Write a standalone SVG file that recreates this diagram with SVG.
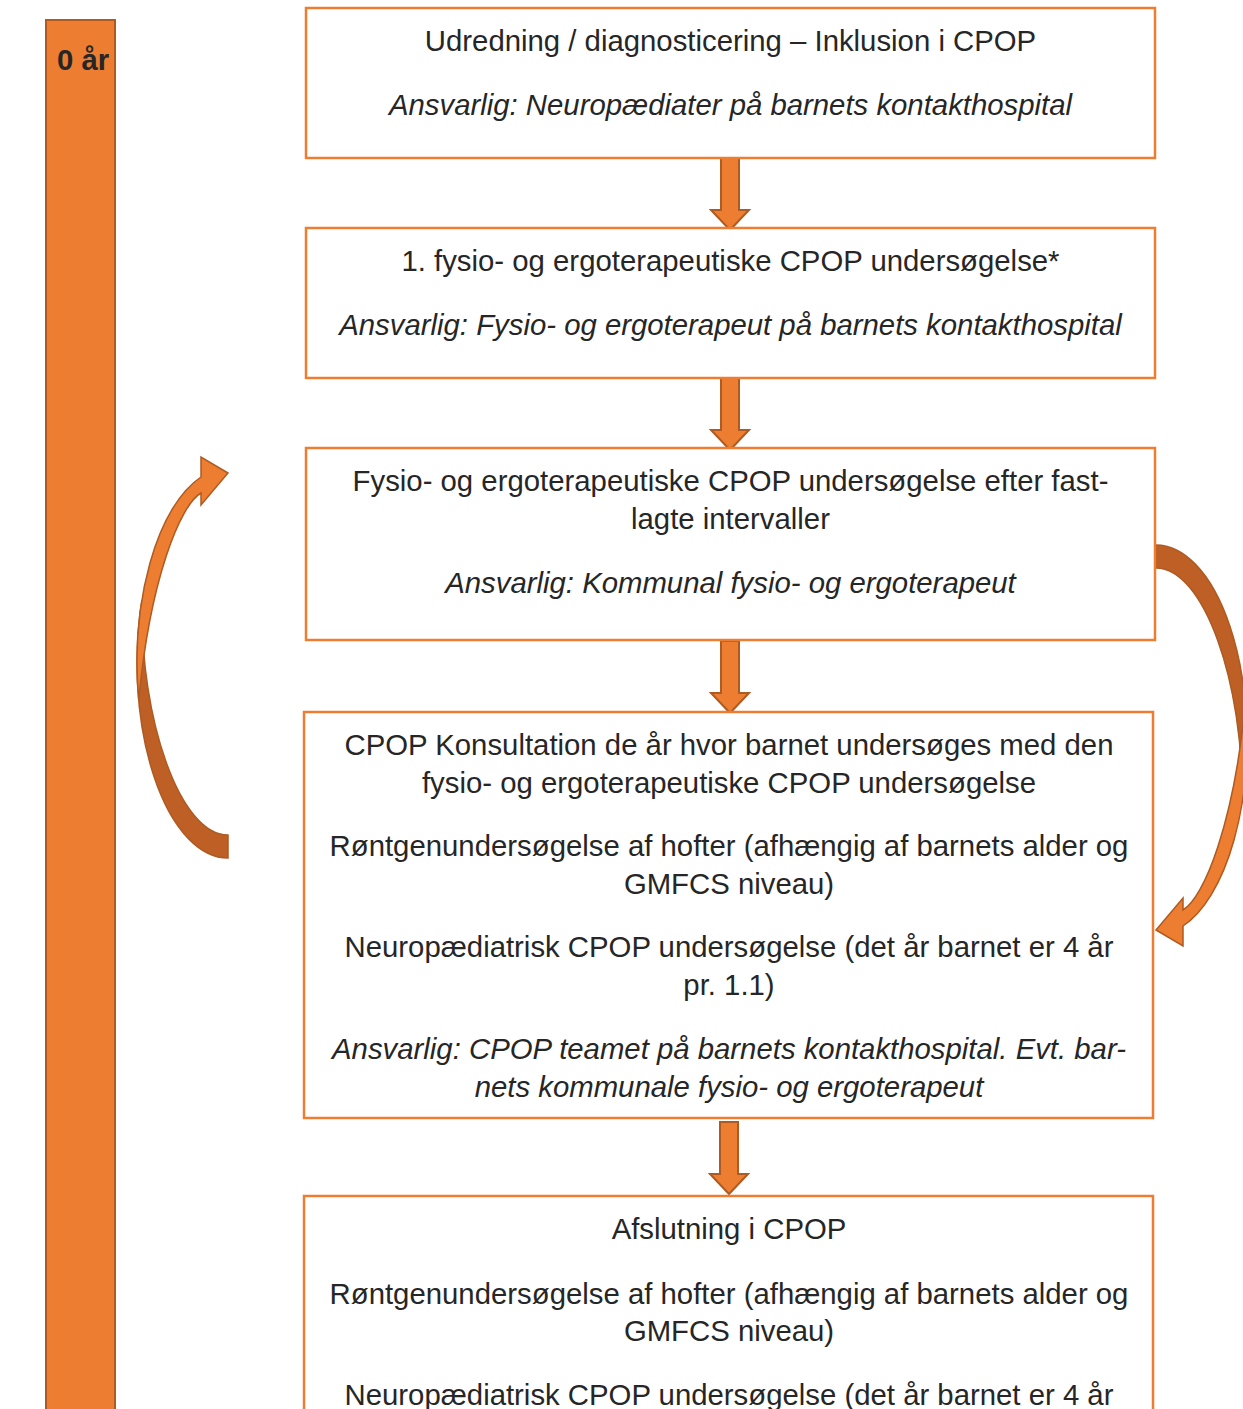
<svg xmlns="http://www.w3.org/2000/svg" width="1243" height="1409" viewBox="0 0 1243 1409">
<style>
.box{fill:#fff;stroke:#ED7D31;stroke-width:2.5}
.t{font-family:"Liberation Sans",Arial,sans-serif;font-size:29.33px;fill:#262626;text-anchor:middle}
.i{font-style:italic}
.arr{fill:#ED7D31;stroke:#AE5A21;stroke-width:2;stroke-linejoin:miter}
.lt{fill:#ED7D31;stroke:#AE5A21;stroke-width:1.5}
.dk{fill:#BE6026;stroke:#AE5A21;stroke-width:1.5}
</style>
<defs>
<path id="downArrow" d="M-9,0 L9,0 L9,52 L19,52 L0,72 L-19,52 L-9,52 Z"/>
<g id="curved">
<path class="dk" d="M228,858 A91,195 0 0 1 141.9,600 C140,720 180,835 228,835 Z"/>
<path class="lt" d="M138.7,700 A91,195 0 0 1 201,477 L201,457 L228,473 L201,505 L201,493 C180,505 150,580 138.7,700 Z"/>
</g>
</defs>

<g id="timeline">
<rect x="46" y="20" width="69" height="1420" fill="#ED7D31" stroke="#AE5A21" stroke-width="2"/>
<text x="57" y="70" font-family="'Liberation Sans',Arial,sans-serif" font-size="29.33" font-weight="bold" fill="#262626">0 år</text>
</g>

<g id="connectors">
<use href="#downArrow" class="arr" x="730" y="158"/>
<use href="#downArrow" class="arr" x="730" y="378"/>
<use href="#downArrow" class="arr" x="730" y="641"/>
<use href="#downArrow" class="arr" x="729" y="1122"/>
<use href="#curved" id="loopLeft"/>
<use href="#curved" id="loopRight" transform="translate(1384,1403) rotate(180)"/>
</g>

<g id="node1">
<rect class="box" x="306" y="8" width="849" height="150"/>
<text class="t" x="730.5" y="51">Udredning / diagnosticering – Inklusion i CPOP</text>
<text class="t i" x="730.5" y="115">Ansvarlig: Neuropædiater på barnets kontakthospital</text>
</g>

<g id="node2">
<rect class="box" x="306" y="228" width="849" height="150"/>
<text class="t" x="730.5" y="271">1. fysio- og ergoterapeutiske CPOP undersøgelse*</text>
<text class="t i" x="730.5" y="335">Ansvarlig: Fysio- og ergoterapeut på barnets kontakthospital</text>
</g>

<g id="node3">
<rect class="box" x="306" y="448" width="849" height="192"/>
<text class="t" x="730.5" y="491">Fysio- og ergoterapeutiske CPOP undersøgelse efter fast-</text>
<text class="t" x="730.5" y="529">lagte intervaller</text>
<text class="t i" x="730.5" y="593">Ansvarlig: Kommunal fysio- og ergoterapeut</text>
</g>

<g id="node4">
<rect class="box" x="304" y="712" width="849" height="406"/>
<text class="t" x="729" y="755">CPOP Konsultation de år hvor barnet undersøges med den</text>
<text class="t" x="729" y="793">fysio- og ergoterapeutiske CPOP undersøgelse</text>
<text class="t" x="729" y="856">Røntgenundersøgelse af hofter (afhængig af barnets alder og</text>
<text class="t" x="729" y="894">GMFCS niveau)</text>
<text class="t" x="729" y="957">Neuropædiatrisk CPOP undersøgelse (det år barnet er 4 år</text>
<text class="t" x="729" y="995">pr. 1.1)</text>
<text class="t i" x="729" y="1059">Ansvarlig: CPOP teamet på barnets kontakthospital. Evt. bar-</text>
<text class="t i" x="729" y="1097">nets kommunale fysio- og ergoterapeut</text>
</g>

<g id="node5">
<rect class="box" x="304" y="1196" width="849" height="260"/>
<text class="t" x="729" y="1239">Afslutning i CPOP</text>
<text class="t" x="729" y="1304">Røntgenundersøgelse af hofter (afhængig af barnets alder og</text>
<text class="t" x="729" y="1341">GMFCS niveau)</text>
<text class="t" x="729" y="1405">Neuropædiatrisk CPOP undersøgelse (det år barnet er 4 år</text>
</g>
</svg>
